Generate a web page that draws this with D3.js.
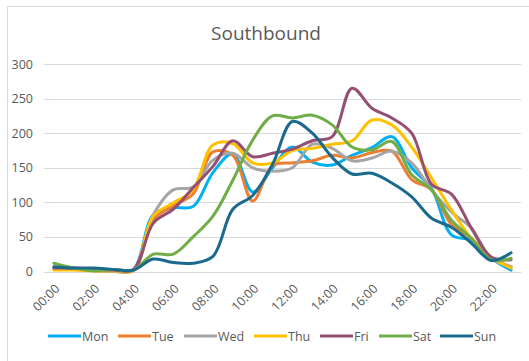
<!DOCTYPE html>
<html>
<head>
<meta charset="utf-8">
<script src="https://cdn.jsdelivr.net/npm/d3@7"></script>
<style>
  html, body { margin: 0; padding: 0; background: #fff; }
  svg { display: block; }
  text { font-family: "Open Sans", "Liberation Sans", sans-serif; fill: #595959; }
</style>
</head>
<body>
<svg id="chart" width="529" height="361"></svg>
<script>
// Hourly traffic counts, southbound direction
const hours = ["00:00","01:00","02:00","03:00","04:00","05:00","06:00","07:00","08:00","09:00","10:00","11:00",
               "12:00","13:00","14:00","15:00","16:00","17:00","18:00","19:00","20:00","21:00","22:00","23:00"];
const tickLabels = ["00:00","02:00","04:00","06:00","08:00","10:00","12:00","14:00","16:00","18:00","20:00","22:00"];
const yTicks = [0, 50, 100, 150, 200, 250, 300];

const mon = [5,4,2,1,3,82,92,94,143,170,115,150,180,158,154,168,179,195,150,120,53,45,19,2];
const tue = [3,3,1,1,1,75,95,112,173,168,102,153,157,160,168,164,172,174,133,118,68,48,20,7];
const wed = [5,4,1,0,2,82,118,122,161,171,150,145,150,184,178,160,164,174,157,118,86,63,19,7];
const thu = [2,2,1,1,2,80,99,118,183,185,157,157,175,178,184,189,219,212,180,135,89,48,21,5];
const fri = [5,5,3,2,3,70,90,121,152,189,166,171,177,189,195,265,236,222,200,126,112,63,21,17];
const sat = [12,5,1,3,2,25,25,50,80,132,190,225,222,226,212,180,176,188,140,118,74,48,17,19];
const sun = [7,5,5,3,2,18,13,12,22,90,110,155,217,200,165,141,142,128,108,77,64,41,16,27];

const seriesNames = ["Mon","Tue","Wed","Thu","Fri","Sat","Sun"];
const seriesValues = [mon, tue, wed, thu, fri, sat, sun];
const seriesColors = ["#00B0F0","#ED7D31","#A5A5A5","#FFC000","#954F72","#70AD47","#1B6A8E"];

const svg = d3.select("#chart");

// chart frame (top and left edges)
svg.append("path")
  .attr("d", "M7.5,361 V6.5 H529")
  .attr("fill", "none")
  .attr("stroke", "#d9d9d9")
  .attr("stroke-width", 1);

svg.append("text")
  .attr("x", 266).attr("y", 40)
  .attr("text-anchor", "middle")
  .style("font-size", "19px")
  .text("Southbound");

const plot = { left: 44, right: 521, top: 64, bottom: 271.5 };

const x = d3.scalePoint().domain(hours).range([plot.left, plot.right]).padding(0.5);
const y = d3.scaleLinear().domain([0, 300]).range([plot.bottom, plot.top]);

// horizontal gridlines
svg.append("g")
  .selectAll("line")
  .data(yTicks)
  .join("line")
  .attr("x1", plot.left).attr("x2", plot.right)
  .attr("y1", d => Math.round(y(d)) + 0.5).attr("y2", d => Math.round(y(d)) + 0.5)
  .attr("stroke", "#d9d9d9")
  .attr("stroke-width", 1);

// y axis labels
const yAxis = d3.axisLeft(y).tickValues(yTicks).tickSize(0).tickPadding(0);
svg.append("g")
  .attr("transform", `translate(${plot.left - 11},0)`)
  .call(yAxis)
  .call(g => g.select(".domain").remove())
  .call(g => g.selectAll("text")
    .style("font-size", "12.5px")
    .style("font-family", "\"Open Sans\", sans-serif")
    .attr("fill", "#595959"));

// x axis labels, rotated
const xAxis = d3.axisBottom(x).tickValues(tickLabels).tickSize(0).tickPadding(0);
svg.append("g")
  .attr("transform", `translate(0,${plot.bottom})`)
  .call(xAxis)
  .call(g => g.select(".domain").remove())
  .call(g => g.selectAll("text")
    .style("font-size", "12.5px")
    .style("font-family", "\"Open Sans\", sans-serif")
    .attr("fill", "#595959")
    .attr("text-anchor", "end")
    .attr("dy", "0")
    .attr("transform", "translate(6,18) rotate(-45)"));

// smoothed series lines
const line = d3.line()
  .x((d, i) => x(hours[i]))
  .y(d => y(d))
  .curve(d3.curveCatmullRom.alpha(0.5));

svg.append("g")
  .selectAll("path")
  .data(seriesValues)
  .join("path")
  .attr("d", d => line(d))
  .attr("fill", "none")
  .attr("stroke", (d, i) => seriesColors[i])
  .attr("stroke-width", 3)
  .attr("stroke-linejoin", "round")
  .attr("stroke-linecap", "round");

// legend
const legendX = [48, 118, 184, 254, 320, 379, 440];
const legend = svg.append("g");
seriesNames.forEach((name, i) => {
  legend.append("line")
    .attr("x1", legendX[i]).attr("x2", legendX[i] + 33)
    .attr("y1", 336).attr("y2", 336)
    .attr("stroke", seriesColors[i])
    .attr("stroke-width", 3);
  legend.append("text")
    .attr("x", legendX[i] + 34).attr("y", 340.5)
    .style("font-size", "12.5px")
    .text(name);
});
</script>
</body>
</html>
